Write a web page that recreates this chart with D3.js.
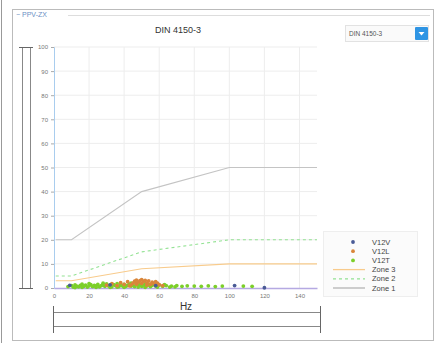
<!DOCTYPE html>
<html>
<head>
<meta charset="utf-8">
<script src="https://cdn.jsdelivr.net/npm/d3@7"></script>
<style>
  body { margin: 0; background: #fff; }
  svg { display: block; font-family: "Liberation Sans", Arial, sans-serif; }
</style>
</head>
<body>
<svg id="canvas" width="443" height="343"></svg>
<script>
// chart data
let xTicks = [0, 20, 40, 60, 80, 100, 120, 140]
let yTicks = [0, 10, 20, 30, 40, 50, 60, 70, 80, 90, 100]

// DIN 4150-3 limit lines [Hz, mm/s]
let zone1 = [[1, 20], [10, 20], [50, 40], [100, 50], [150, 50]]
let zone2 = [[1, 5], [10, 5], [50, 15], [100, 20], [150, 20]]
let zone3 = [[1, 3], [10, 3], [50, 8], [100, 10], [150, 10]]

// measured peaks [Hz, mm/s]
let v12v = [[9, 1.1], [32, 1.3], [58, 1.0], [103, 1.0], [120, 0.1]]
let v12l = [[30, 1.2], [33, 1.8], [36, 1.0], [38, 2.2], [40, 1.5], [42, 2.6], [44, 1.3], [45, 2.0],
            [46, 2.8], [47, 1.6], [48, 2.4], [49, 3.0], [50, 1.9], [51, 2.7], [52, 3.2], [53, 2.1],
            [54, 2.9], [55, 1.5], [56, 2.4], [57, 1.8], [58, 2.6], [60, 1.4], [62, 1.0],
            [43, 0.9], [47, 3.3], [50, 3.5], [53, 1.2], [59, 2.0]]
let v12t = [[8, 0.6], [10, 1.0], [11, 0.4], [12, 1.3], [13, 0.8], [14, 0.5], [15, 1.1], [16, 1.6],
            [17, 0.7], [18, 1.2], [19, 0.4], [20, 0.9], [21, 1.4], [22, 0.6], [23, 1.1], [24, 0.8],
            [25, 1.5], [26, 0.5], [27, 1.0], [28, 1.3], [29, 0.7], [30, 1.7], [31, 0.9], [32, 1.2],
            [33, 0.5], [34, 1.4], [35, 1.0], [36, 1.8], [37, 0.6], [38, 1.2], [39, 0.9], [40, 1.5],
            [41, 0.7], [42, 1.1], [43, 1.6], [44, 0.8], [45, 1.3], [46, 0.6], [47, 1.9], [48, 1.0],
            [49, 1.4], [50, 0.7], [51, 1.2], [52, 1.7], [53, 0.9], [54, 1.3], [55, 0.6], [56, 1.1],
            [57, 1.5], [58, 0.8], [60, 1.2], [62, 0.7], [64, 1.0], [67, 0.8], [70, 1.0], [73, 0.7],
            [76, 0.9], [80, 0.8], [84, 0.7], [88, 0.9], [92, 0.6], [96, 0.8], [108, 0.8], [113, 0.7],
            [12, 0.2], [16, 0.3], [20, 1.8], [24, 0.3], [28, 2.0], [32, 0.3], [36, 0.4], [40, 0.3],
            [44, 2.0], [48, 0.4], [52, 0.3], [56, 1.9], [59, 0.4], [63, 1.4], [66, 0.4], [69, 0.5]]

let legendNames = ["V12V", "V12L", "V12T", "Zone 3", "Zone 2", "Zone 1"]

let canvas = d3.select("#canvas")

// frame
canvas.append("line").attr("x1", 1.5).attr("x2", 1.5).attr("y1", 0).attr("y2", 343)
    .attr("stroke", "#999")
canvas.append("rect").attr("x", 12.5).attr("y", 9.5).attr("width", 421).attr("height", 331)
    .attr("fill", "none").attr("stroke", "#bbb")
canvas.append("line").attr("x1", 68).attr("x2", 430).attr("y1", 15.5).attr("y2", 15.5)
    .attr("stroke", "#ddd")
canvas.append("text").attr("x", 16).attr("y", 17).attr("font-size", 7).attr("fill", "#6b8fc4")
    .text("\u2212 PPV-ZX")

let x = d3.scaleLinear().domain([0, 150]).range([54, 317])
let y = d3.scaleLinear().domain([0, 100]).range([288, 47])

// grid
canvas.append("g").selectAll("line").data(xTicks.slice(1)).enter().append("line")
    .attr("x1", d => x(d)).attr("x2", d => x(d)).attr("y1", y(100)).attr("y2", y(0))
    .attr("stroke", "#ededed")
canvas.append("g").selectAll("line").data(yTicks.slice(1)).enter().append("line")
    .attr("x1", x(0)).attr("x2", x(150)).attr("y1", d => y(d)).attr("y2", d => y(d))
    .attr("stroke", "#ededed")

// axes
let yAxis = canvas.append("g").attr("transform", "translate(" + x(0) + ",0)")
    .call(d3.axisLeft(y).tickValues(yTicks).tickSize(3).tickPadding(3))
yAxis.select(".domain").attr("stroke", "#a9cdee")
yAxis.selectAll(".tick line").attr("stroke", "#aaa")
yAxis.selectAll("text").attr("font-size", 6).attr("fill", "#777").attr("font-family", "Liberation Sans, Arial")

let xAxis = canvas.append("g").attr("transform", "translate(0," + y(0) + ")")
    .call(d3.axisBottom(x).tickValues(xTicks).tickSize(0).tickPadding(6))
xAxis.select(".domain").attr("stroke", "#b5a9e2").attr("stroke-width", 1.5)
xAxis.selectAll("text").attr("font-size", 6).attr("fill", "#777").attr("font-family", "Liberation Sans, Arial")

canvas.append("text").attr("x", 186).attr("y", 310).attr("text-anchor", "middle")
    .attr("font-size", 10).attr("fill", "#333").text("Hz")

canvas.append("text").attr("x", 178).attr("y", 33).attr("text-anchor", "middle")
    .attr("font-size", 9).attr("fill", "#333").text("DIN 4150-3")

// zone lines
let line = d3.line().x(d => x(d[0])).y(d => y(d[1]))
canvas.append("path").datum(zone1).attr("d", line).attr("fill", "none")
    .attr("stroke", "#c4c4c4").attr("stroke-width", 1.1)
canvas.append("path").datum(zone2).attr("d", line).attr("fill", "none")
    .attr("stroke", "#93e293").attr("stroke-width", 1.1).attr("stroke-dasharray", "3,3")
canvas.append("path").datum(zone3).attr("d", line).attr("fill", "none")
    .attr("stroke", "#f8cb8c").attr("stroke-width", 1.1)

// points
let drawPoints = (data, color) => {
    canvas.append("g").selectAll("circle").data(data).enter().append("circle")
        .attr("cx", d => x(d[0])).attr("cy", d => y(d[1])).attr("r", 1.9)
        .attr("fill", color)
}
drawPoints(v12t, "#7ccf2a")
drawPoints(v12l, "#d9863a")
drawPoints(v12v, "#4a5b96")

// left slider
canvas.append("line").attr("x1", 22.5).attr("x2", 22.5).attr("y1", 47).attr("y2", 288).attr("stroke", "#888")
canvas.append("line").attr("x1", 30.5).attr("x2", 30.5).attr("y1", 47).attr("y2", 288).attr("stroke", "#888")
canvas.append("line").attr("x1", 19).attr("x2", 33).attr("y1", 47.5).attr("y2", 47.5).attr("stroke", "#666")
canvas.append("line").attr("x1", 19).attr("x2", 33).attr("y1", 288.5).attr("y2", 288.5).attr("stroke", "#666")

// bottom slider
canvas.append("line").attr("x1", 53).attr("x2", 320).attr("y1", 312.5).attr("y2", 312.5).attr("stroke", "#888")
canvas.append("line").attr("x1", 53).attr("x2", 320).attr("y1", 326.5).attr("y2", 326.5).attr("stroke", "#888")
canvas.append("line").attr("x1", 53.5).attr("x2", 53.5).attr("y1", 306).attr("y2", 333).attr("stroke", "#666")
canvas.append("line").attr("x1", 320.5).attr("x2", 320.5).attr("y1", 306).attr("y2", 333).attr("stroke", "#666")

// dropdown
canvas.append("rect").attr("x", 345.5).attr("y", 25.5).attr("width", 83).attr("height", 16)
    .attr("fill", "#fafafa").attr("stroke", "#e2e2e2")
canvas.append("text").attr("x", 349).attr("y", 36).attr("font-size", 6.5).attr("fill", "#555").text("DIN 4150-3")
canvas.append("rect").attr("x", 415).attr("y", 27).attr("width", 13).attr("height", 13)
    .attr("fill", "#2f95e4").attr("rx", 1)
canvas.append("path").attr("d", "M418.5,32 L424.5,32 L421.5,35.5 Z").attr("fill", "#fff")

// legend
let legend = canvas.append("g")
legend.append("rect").attr("x", 323.5).attr("y", 231.5).attr("width", 94).attr("height", 65)
    .attr("fill", "#fbfbfb").attr("stroke", "#eee")
let rows = legend.selectAll("g").data(legendNames).enter().append("g")
    .attr("transform", (d, i) => "translate(0," + (242 + i * 9.2) + ")")
rows.append("text").attr("x", 372).attr("y", 2.5).attr("font-size", 7.5).attr("fill", "#444").text(d => d)
let symColors = ["#4a5b96", "#d9863a", "#7ccf2a"]
rows.filter((d, i) => i < 3).append("circle").attr("cx", 353).attr("cy", 0).attr("r", 1.9)
    .attr("fill", (d, i) => symColors[i])
let lineStyles = [["#f8cb8c", null], ["#93e293", "3,3"], ["#b4b4b4", null]]
rows.filter((d, i) => i >= 3).append("line").attr("x1", 333).attr("x2", 365).attr("y1", 0).attr("y2", 0)
    .attr("stroke", (d, i) => lineStyles[i][0]).attr("stroke-width", 1.3)
    .attr("stroke-dasharray", (d, i) => lineStyles[i][1])
</script>
</body>
</html>
